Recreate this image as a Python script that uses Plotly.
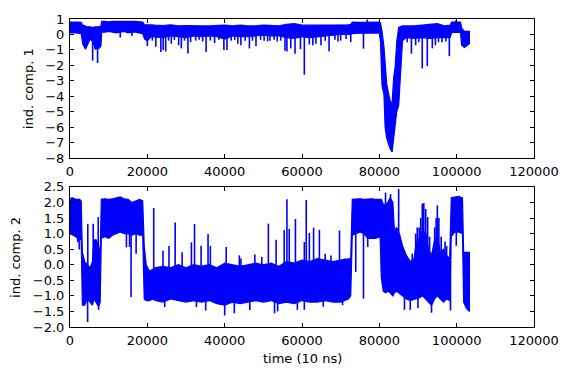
import numpy as np
import plotly.graph_objects as go

# ---------------- data ----------------
# Panel 1: envelope of the dense trace (knot time, upper edge, lower edge)
top_t = [0, 1000, 2000, 2900, 3300, 4000, 4500, 5200, 6000, 6500, 7500, 8000, 8200,
         9000, 10000, 11000, 12000, 13000, 14000, 15000, 16000, 17000, 18000, 18800,
         19300, 20000, 21000, 22000, 24000, 26000, 28000, 30000, 32000, 34000, 36000,
         38000, 40000, 42000, 44000, 46000, 48000, 50000, 52000, 54000, 56000, 58000,
         60000, 62000, 64000, 66000, 68000, 70000, 72000, 72600, 73000, 75000, 77000,
         79000, 80000, 80300, 80700, 81200, 81500, 81900, 82300, 82800, 83300, 83700,
         84100, 84500, 85000, 85350, 85700, 86000, 87000, 89000, 91000, 93000, 95000,
         97000, 98300, 98700, 100000, 101000, 101300, 102000, 103300]
top_hi = [0.80, 0.82, 0.80, 0.78, 0.60, 0.55, 0.50, 0.50, 0.45, 0.50, 0.50, 0.55, 0.85,
          0.85, 0.82, 0.85, 0.85, 0.88, 0.85, 0.85, 0.87, 0.85, 0.82, 0.80,
          0.62, 0.60, 0.62, 0.60, 0.58, 0.62, 0.55, 0.58, 0.55, 0.55, 0.55,
          0.58, 0.60, 0.55, 0.60, 0.55, 0.55, 0.60, 0.58, 0.55, 0.65, 0.70,
          0.60, 0.60, 0.60, 0.58, 0.60, 0.60, 0.62, 0.65, 0.80, 0.78, 0.80,
          0.82, 0.80, 0.75, 0.20, -0.80, -2.00, -3.20, -3.70, -4.30, -4.50, -2.80,
          -2.10, -0.50, 0.45, 0.50, 0.50, 0.55, 0.55, 0.55, 0.60, 0.65, 0.70,
          0.55, 0.60, 0.80, 0.82, 0.80, 0.40, 0.20, 0.20]
top_lo = [0.10, 0.12, 0.08, 0.05, -0.60, -0.95, -0.70, -0.30, -0.50, -0.95, -0.90, -0.75, 0.15,
          0.15, 0.20, 0.15, 0.10, 0.15, 0.20, 0.10, 0.15, 0.15, 0.10, 0.05,
          -0.30, -0.40, -0.15, -0.15, -0.20, -0.10, -0.15, -0.20, -0.10, -0.15, -0.10,
          -0.15, -0.30, -0.10, -0.15, -0.15, -0.10, -0.05, -0.10, -0.10, -0.20, -0.25,
          -0.15, -0.20, -0.15, -0.10, -0.05, 0.00, 0.00, 0.00, 0.05, 0.08, 0.08,
          0.10, 0.10, -0.50, -3.30, -3.90, -6.00, -6.70, -7.00, -7.40, -7.60, -6.80,
          -5.80, -5.00, -4.60, -3.40, -1.50, -0.40, -0.20, -0.25, -0.20, -0.25, -0.20,
          -0.20, -0.20, 0.12, 0.15, 0.12, -0.70, -0.85, -0.60]
# Panel 1: isolated excursions (time, extreme value)
top_spike_t = [5850, 7130, 13000, 16000, 20000, 21300, 22200, 23500, 24100, 24750, 25500,
               26200, 27000, 28100, 28800, 29600, 30500, 31200, 32500, 33400, 34300, 35200,
               36300, 37400, 38500, 39800, 40600, 41700, 42600, 43400, 44200, 45300, 46400,
               47200, 48100, 49300, 50200, 51100, 51700, 52800, 53600, 54500, 55600, 56100,
               57100, 58200, 59600, 60600, 61900, 62800, 63600, 64900, 66000, 67000, 68500,
               69300, 70000, 71400, 72600, 75900, 76900, 87200, 88300, 89400, 90200, 91100,
               92400, 93700, 94500, 95300, 96200, 97200, 98100, 99800]
top_spike_y = [-1.70, -1.85, -0.20, -0.10, -0.75, -0.40, -0.80, -1.13, -1.00, -1.10, -0.40,
               -0.60, -0.35, -0.70, -0.90, -0.40, -1.24, -0.50, -0.40, -0.35, -0.45, -1.13,
               -0.40, -0.55, -0.35, -1.00, -1.00, -0.40, -0.35, -0.60, -0.70, -0.40, -0.90,
               -0.40, -0.75, -0.35, -0.40, -0.45, -0.40, -0.35, -0.45, -0.40, -1.05, -1.10,
               -0.90, -1.25, -0.95, -2.60, -0.65, -0.70, -0.60, -0.70, -0.40, -1.09, -0.35,
               -0.45, -0.40, -0.30, -0.50, -0.92, 0.97, -0.50, -1.24, -0.70, -0.50, -2.20,
               -2.05, -0.90, -0.70, -0.50, -0.50, -0.45, -1.40, 0.92]

# Panel 2: envelope
bot_t = [0, 500, 1500, 2500, 2900, 3200, 3800, 4500, 5200, 5800, 6200, 6800, 7400, 7800,
         8100, 9000, 10000, 11000, 12000, 13000, 14000, 15000, 16000, 17000, 18000, 18800,
         19200, 19700, 20500, 21500, 22000, 24000, 26000, 28000, 30000, 32000, 34000,
         36000, 38000, 40000, 42000, 44000, 46000, 48000, 50000, 52000, 54000, 56000,
         58000, 60000, 62000, 64000, 66000, 68000, 70000, 72000, 72600, 73000, 74000,
         75000, 76000, 77000, 78000, 79000, 80200, 80500, 81000, 81600, 82200, 82800,
         83500, 83900, 84500, 85300, 86000, 87000, 88000, 89000, 89500, 90500, 91200,
         92000, 92700, 93500, 94300, 95000, 95800, 96600, 97400, 98200, 98600, 99500,
         100500, 101500, 101800, 102500, 103300]
bot_hi = [2.10, 2.15, 2.10, 2.10, 2.05, 0.40, 0.10, 0.00, -0.10, 0.10, 0.80, 0.80, 0.60, 0.30,
          2.10, 2.12, 2.10, 2.12, 2.15, 2.18, 2.12, 2.10, 2.00, 2.05, 2.10, 2.05,
          0.60, 0.00, -0.20, -0.15, -0.10, -0.05, -0.10, 0.00, -0.10, 0.00, -0.05,
          0.00, -0.10, 0.05, 0.00, -0.05, 0.00, 0.05, 0.00, 0.05, -0.05, 0.10,
          0.05, 0.15, 0.10, 0.20, 0.15, 0.10, 0.15, 0.20, 0.20, 2.10, 2.12,
          2.12, 2.10, 2.12, 2.12, 2.10, 2.10, 2.10, 1.95, 1.90, 2.00, 2.15,
          2.00, 1.10, 1.20, 0.95, 0.60, 0.30, 0.10, 0.20, 0.70, 0.90, 1.10,
          1.00, 0.50, 0.30, 0.80, 0.90, 0.40, 0.50, 0.30, 0.20, 2.15, 2.18,
          2.20, 2.15, 0.40, 0.40, 0.40]
bot_lo = [1.00, 0.95, 0.90, 0.80, 0.85, -1.30, -1.30, -1.10, -1.20, -1.30, -1.10, -1.20, -1.35, -1.20,
          0.85, 0.90, 0.85, 0.95, 1.00, 1.05, 1.00, 1.00, 0.95, 1.00, 0.95, 0.95,
          -1.10, -1.15, -1.15, -1.10, -1.15, -1.20, -1.10, -1.15, -1.20, -1.15, -1.20,
          -1.15, -1.25, -1.30, -1.20, -1.25, -1.20, -1.15, -1.20, -1.15, -1.25, -1.20,
          -1.25, -1.15, -1.20, -1.20, -1.15, -1.20, -1.20, -1.10, -1.00, 0.95, 1.00,
          1.05, 1.00, 0.85, 0.85, 0.85, 0.90, -0.40, -0.85, -0.90, -0.85, -0.90,
          -1.00, -0.90, -0.85, -0.95, -1.00, -1.10, -1.15, -1.10, -1.10, -1.05, -1.00,
          -1.10, -1.20, -1.30, -1.10, -1.00, -1.10, -1.20, -1.10, -1.15, 0.90, 1.05,
          1.05, 1.00, -1.20, -1.40, -1.50]
# Panel 2: isolated excursions
bot_spike_t = [2000, 2400, 4560, 4600, 6000, 7300, 7400, 14600, 15400, 15800, 17100,
               21650, 24050, 24500, 25600, 27200, 29000, 31400, 32200, 32700, 33900, 35100,
               35700, 36300, 40000, 40400, 42500, 43800, 44200, 46500, 47800, 49600, 51300,
               52900, 53300, 53700, 55400, 56100, 56700, 58300, 58800, 60600, 60600, 61100,
               61900, 63000, 64500, 65500, 66000, 67500, 69700, 70500, 71000, 73900, 75900,
               77000, 81600, 82900, 85000, 86500, 88000, 88500, 89400, 89800, 90000, 90300,
               90700, 91100, 91500, 92000, 92500, 93000, 93500, 94300, 94700, 95000, 95400,
               96000, 97000, 97400, 98400, 99900]
bot_spike_y = [0.72, 0.49, -1.84, 1.31, 1.32, 1.53, -1.45, 0.56, 0.57, -1.04, 0.35,
               1.82, 0.45, -1.36, 0.60, 1.36, 0.40, 0.72, 1.31, -1.36, 0.61, -1.47,
               0.99, 0.60, -1.63, 0.57, -1.56, 0.30, 0.20, -1.45, 0.33, 0.25, 1.32,
               -1.56, 0.80, -1.50, 1.12, 2.10, 1.15, 1.47, -1.45, 0.73, -1.45, 2.08,
               1.02, 1.19, 1.12, -1.35, 0.35, 0.30, 1.10, -1.30, 0.20, -0.23, -1.09,
               0.57, 2.32, 2.27, 2.43, -1.45, -1.45, 0.35, 1.00, 1.20, -1.40, 1.20,
               1.50, 1.96, 1.98, 1.79, 1.53, 0.90, -1.54, 1.20, 1.50, 1.91, 1.50,
               0.90, 0.75, 0.60, -1.47, 0.61]

x_ticks = [0, 20000, 40000, 60000, 80000, 100000, 120000]
top_y_ticks = [1, 0, -1, -2, -3, -4, -5, -6, -7, -8]
bot_y_ticks = [2.5, 2.0, 1.5, 1.0, 0.5, 0.0, -0.5, -1.0, -1.5, -2.0]

BLUE = "#0000ff"
FONT = "DejaVu Sans"


def band_trace(t, hi, lo, xa, ya):
    xs = list(t) + list(t)[::-1]
    ys = list(hi) + list(lo)[::-1]
    return go.Scatter(x=xs, y=ys, mode="lines", fill="toself", fillcolor=BLUE,
                      line=dict(color=BLUE, width=1.2), xaxis=xa, yaxis=ya,
                      hoverinfo="skip", showlegend=False)


def spike_trace(t, hi, lo, st, sy, xa, ya):
    mid = (np.array(hi) + np.array(lo)) / 2.0
    base = np.interp(st, t, mid)
    xs, ys = [], []
    for a, b, c in zip(st, base, sy):
        xs += [a, a, None]
        ys += [float(b), c, None]
    return go.Scatter(x=xs, y=ys, mode="lines", line=dict(color=BLUE, width=1.6),
                      xaxis=xa, yaxis=ya, hoverinfo="skip", showlegend=False)


fig = go.Figure()
fig.add_trace(band_trace(top_t, top_hi, top_lo, "x", "y"))
fig.add_trace(spike_trace(top_t, top_hi, top_lo, top_spike_t, top_spike_y, "x", "y"))
fig.add_trace(band_trace(bot_t, bot_hi, bot_lo, "x2", "y2"))
fig.add_trace(spike_trace(bot_t, bot_hi, bot_lo, bot_spike_t, bot_spike_y, "x2", "y2"))

axis_common = dict(showgrid=False, zeroline=False, showline=True, linecolor="black",
                   linewidth=1, mirror="allticks", ticks="inside", ticklen=4,
                   tickwidth=1, tickcolor="black",
                   tickfont=dict(family=FONT, size=13, color="black"))

fig.update_layout(
    width=571, height=377,
    margin=dict(l=70, r=35, t=17, b=50),
    paper_bgcolor="white", plot_bgcolor="white",
    font=dict(family=FONT, size=13, color="black"),
    xaxis=dict(domain=[0, 1], anchor="y", range=[0, 120000], tickvals=x_ticks,
               ticktext=[str(v) for v in x_ticks], ticklabelstandoff=1, **axis_common),
    yaxis=dict(domain=[0.5484, 1], anchor="x", range=[-8, 1], tickvals=top_y_ticks,
               ticktext=[str(v).replace("-", "\u2212") for v in top_y_ticks],
               ticklabelstandoff=2, **axis_common),
    xaxis2=dict(domain=[0, 1], anchor="y2", range=[0, 120000], tickvals=x_ticks,
                ticktext=[str(v) for v in x_ticks], ticklabelstandoff=1, **axis_common),
    yaxis2=dict(domain=[0, 0.4548], anchor="x2", range=[-2, 2.5], tickvals=bot_y_ticks,
                ticktext=[f"{v:.1f}".replace("-", "\u2212") for v in bot_y_ticks],
                ticklabelstandoff=2, **axis_common),
    annotations=[
        dict(text="ind. comp. 1", xref="paper", yref="paper", x=-0.0892, y=0.774,
             textangle=-90, showarrow=False, xanchor="center", yanchor="middle",
             font=dict(family=FONT, size=13, color="black")),
        dict(text="ind. comp. 2", xref="paper", yref="paper", x=-0.1164, y=0.2274,
             textangle=-90, showarrow=False, xanchor="center", yanchor="middle",
             font=dict(family=FONT, size=13, color="black")),
        dict(text="time (10 ns)", xref="paper", yref="paper", x=0.5, y=-0.1032,
             showarrow=False, xanchor="center", yanchor="middle",
             font=dict(family=FONT, size=13, color="black")),
    ],
)

fig.write_html("out.html")
